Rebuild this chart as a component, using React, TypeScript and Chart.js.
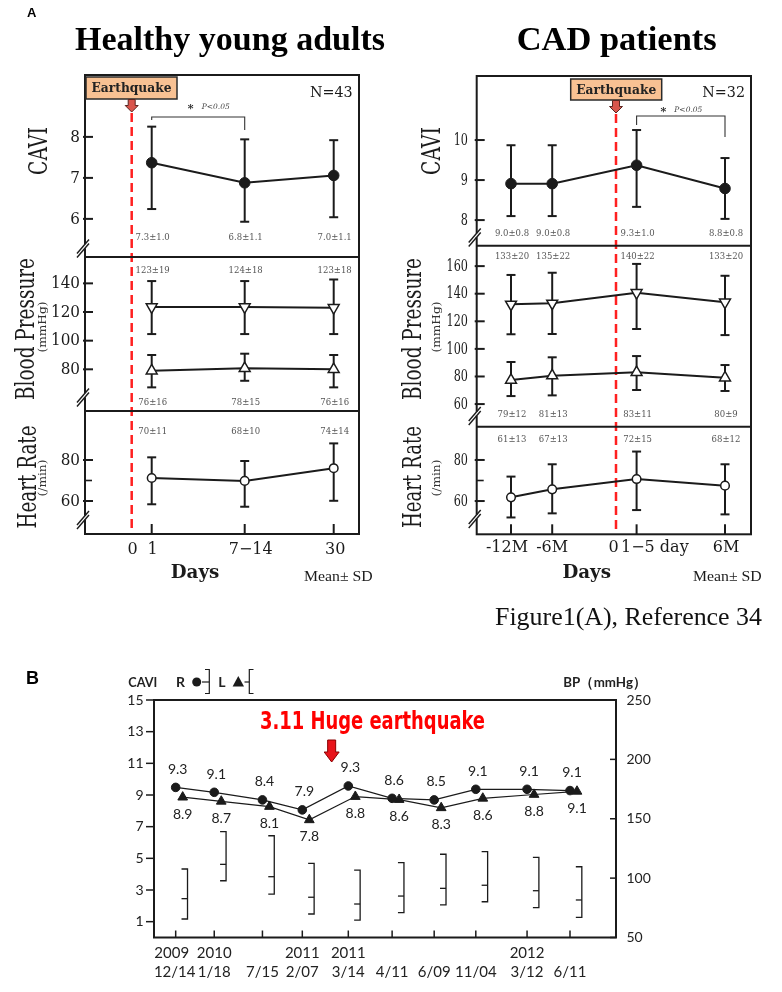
import React, { useEffect, useRef } from 'react';
import { Chart, registerables } from 'chart.js';

Chart.register(...registerables);

const W = 782;
const H = 992;
const INK = '#1b1b1b';
const SERIF = '"DejaVu Serif", serif';
const TIMES = '"Liberation Serif", "Times New Roman", serif';
const SANS = 'Lato, "Open Sans", sans-serif';

// ================= Figure 1(A) left: healthy young adults =================
const hyaXLabels = ['0', '1', '7−14', '30'];
const hyaXLabelPos = [0, 1, 5.65, 10.1];
const hyaPos = [1, 5.65, 10.1];
const hyaCavi = [7.37, 6.88, 7.06];
const hyaCaviLo = [6.24, 5.93, 6.04];
const hyaCaviHi = [8.25, 7.94, 7.92];
const hyaCaviText = ['7.3±1.0', '6.8±1.1', '7.0±1.1'];
const hyaSbp = [123.5, 123.5, 123];
const hyaSbpLo = [104.6, 104.6, 104.6];
const hyaSbpHi = [141.6, 141.6, 142.7];
const hyaSbpText = ['123±19', '124±18', '123±18'];
const hyaDbp = [79, 80.7, 80];
const hyaDbpLo = [67.4, 72, 67.4];
const hyaDbpHi = [90, 90.9, 90];
const hyaDbpText = ['76±16', '78±15', '76±16'];
const hyaHr = [71.2, 69.8, 76];
const hyaHrLo = [58.4, 57.2, 60.1];
const hyaHrHi = [81.3, 79.5, 88.1];
const hyaHrText = ['70±11', '68±10', '74±14'];
const hyaCaviTicks = [6, 7, 8];
const hyaBpTicks = [80, 100, 120, 140];

// ================= Figure 1(A) right: CAD patients =================
const cadXLabels = ['-12M', '-6M', '0', '1−5 day', '6M'];
const cadXLabelPos = [-5.25, -3.19, 0, 1.03, 5.45];
const cadPos = [-5.25, -3.19, 1.03, 5.45];
const cadCavi = [8.91, 8.91, 9.37, 8.79];
const cadCaviLo = [8.1, 8.1, 8.33, 8.03];
const cadCaviHi = [9.87, 9.87, 10.25, 9.55];
const cadCaviText = ['9.0±0.8', '9.0±0.8', '9.3±1.0', '8.8±0.8'];
const cadSbp = [132.3, 133, 140.7, 133.8];
const cadSbpLo = [110.6, 110.8, 114.4, 110];
const cadSbpHi = [153.6, 155.2, 161.6, 153];
const cadSbpText = ['133±20', '135±22', '140±22', '133±20'];
const cadDbp = [77.4, 80.6, 83, 79.1];
const cadDbpLo = [65.8, 66.3, 70.2, 69.5];
const cadDbpHi = [90.5, 93.9, 94.8, 88.3];
const cadDbpText = ['79±12', '81±13', '83±11', '80±9'];
const cadHr = [61.8, 65.7, 70.7, 67.5];
const cadHrLo = [52, 54, 55.6, 53.5];
const cadHrHi = [71.9, 77.9, 84.1, 77.9];
const cadHrText = ['61±13', '67±13', '72±15', '68±12'];
const cadCaviTicks = [8, 9, 10];
const cadBpTicks = [60, 80, 100, 120, 140, 160];

const hrTicks = [60, 80];
const hrMinorTicks = [70];

// ================= Figure B =================
const bYears = ['2009', '2010', '', '2011', '2011', '', '', '', '2012', ''];
const bDays = ['12/14', '1/18', '7/15', '2/07', '3/14', '4/11', '6/09', '11/04', '3/12', '6/11'];
const bPos = [0, 0.88, 1.98, 2.89, 3.94, 4.94, 5.9, 6.85, 8.02, 9.0];
const bCaviR = [9.48, 9.17, 8.69, 8.06, 9.57, 8.79, 8.69, 9.36, 9.36, 9.28];
const bCaviL = [8.86, 8.6, 8.27, 7.43, 8.9, 8.71, 8.19, 8.79, 9.03, 9.23];
const bCaviRText = ['9.3', '9.1', '8.4', '7.9', '9.3', '8.6', '8.5', '9.1', '9.1', '9.1'];
const bCaviLText = ['8.9', '8.7', '8.1', '7.8', '8.8', '8.6', '8.3', '8.6', '8.8', '9.1'];
const bBpTop = [107.7, 139.1, 135.7, 112.5, 106.8, 113, 120.1, 122.3, 117.5, 109.6];
const bBpMid = [82.7, 111.6, 101.2, 83.9, 78.2, 84.9, 91.4, 94, 89.4, 81.6];
const bBpLow = [65.6, 97.8, 86.6, 69.8, 64.7, 70.9, 77.4, 80.1, 75.1, 67];
const bCaviTicks = [1, 3, 5, 7, 9, 11, 13, 15];
const bBpTicks = [50, 100, 150, 200, 250];
const bQuakePos = 3.56;

// ---------------- helpers ----------------
function txt(ctx: any, s: string, x: number, y: number, font: string, o: any = {}) {
  ctx.save();
  ctx.font = font;
  ctx.fillStyle = o.color ?? INK;
  ctx.textAlign = o.align ?? 'center';
  ctx.textBaseline = o.base ?? 'middle';
  ctx.translate(x, y);
  if (o.rot) ctx.rotate(o.rot);
  if (o.fit) {
    const w = ctx.measureText(s).width;
    if (w > 0) ctx.scale(o.fit / w, 1);
  } else if (o.sx) {
    ctx.scale(o.sx, 1);
  }
  ctx.fillText(s, 0, 0);
  ctx.restore();
}

function seg(ctx: any, x1: number, y1: number, x2: number, y2: number) {
  ctx.beginPath();
  ctx.moveTo(x1, y1);
  ctx.lineTo(x2, y2);
  ctx.stroke();
}

function markerStyle(kind: string) {
  if (kind === 'dot')
    return { pointStyle: 'circle', pointRadius: 5.3, pointBackgroundColor: INK, pointBorderColor: INK, pointBorderWidth: 1 };
  if (kind === 'down')
    return { pointStyle: 'triangle', pointRotation: 180, pointRadius: 6.3, pointBackgroundColor: '#fff', pointBorderColor: INK, pointBorderWidth: 1.5 };
  if (kind === 'up')
    return { pointStyle: 'triangle', pointRotation: 0, pointRadius: 6.3, pointBackgroundColor: '#fff', pointBorderColor: INK, pointBorderWidth: 1.5 };
  return { pointStyle: 'circle', pointRadius: 4.3, pointBackgroundColor: '#fff', pointBorderColor: INK, pointBorderWidth: 1.5 };
}

function secRange(s: any, top: number, bottom: number) {
  const ppu = (s.bottom - s.top) / (s.hi - s.lo);
  return { min: s.lo - (bottom - s.bottom) / ppu, max: s.hi + (s.top - top) / ppu };
}

// ---------------- panel configs ----------------
const hyaCfg = {
  frame: { left: 85, right: 359, top: 75, bottom: 534 },
  xMin: -2.335,
  xMax: 11.365,
  pos: hyaPos,
  xLabels: hyaXLabels,
  xLabelPos: hyaXLabelPos,
  xLabelDx: [0.8, 0.8, 6, 1.5],
  xLabelAlign: ['center', 'center', 'center', 'center'],
  xLabelY: 550,
  tickRight: 80,
  tickSx: 0.95,
  secs: [
    { id: 'yC', top: 75, bottom: 257, lo: 5.07, hi: 9.51, ticks: hyaCaviTicks, minor: [], title: 'CAVI', titleLen: 48, titleX: 47, titleY: 151, breakY: 248.5 },
    { id: 'yB', top: 257, bottom: 411, lo: 50.9, hi: 158.4, ticks: hyaBpTicks, minor: [], title: 'Blood Pressure', titleLen: 142, titleX: 34, titleY: 329, unit: '(mmHg)', unitLen: 51, unitX: 45.8, unitY: 327, breakY: 397.5 },
    { id: 'yH', top: 411, bottom: 534, lo: 43.9, hi: 103.9, ticks: hrTicks, minor: hrMinorTicks, title: 'Heart Rate', titleLen: 103, titleX: 35.5, titleY: 477, unit: '(/min)', unitLen: 37, unitX: 45.8, unitY: 478, breakY: 520 },
  ],
  series: [
    { sec: 'yC', kind: 'dot', val: hyaCavi, lo: hyaCaviLo, hi: hyaCaviHi, text: hyaCaviText, textY: 238 },
    { sec: 'yB', kind: 'down', val: hyaSbp, lo: hyaSbpLo, hi: hyaSbpHi, text: hyaSbpText, textY: 270.7 },
    { sec: 'yB', kind: 'up', val: hyaDbp, lo: hyaDbpLo, hi: hyaDbpHi, text: hyaDbpText, textY: 402.7 },
    { sec: 'yH', kind: 'ring', val: hyaHr, lo: hyaHrLo, hi: hyaHrHi, text: hyaHrText, textY: 431.7 },
  ],
  box: [86, 77, 177, 99],
  arrowTop: 99.5,
  dashTop: 113,
  nText: 'N=43',
  nRight: 352.7,
  nY: 93,
  sig: { from: hyaPos[0], to: hyaPos[1], top: 117, leftDrop: 120, rightDrop: 130, starX: 190.7, y: 107.5 },
  daysX: 195,
  meanX: 304,
  heading: 'Healthy young adults',
  headingX: 230,
  headingW: 310,
};

const cadCfg = {
  frame: { left: 476.7, right: 751, top: 76, bottom: 534.3 },
  xMin: -6.965,
  xMax: 6.75,
  pos: cadPos,
  xLabels: cadXLabels,
  xLabelPos: cadXLabelPos,
  xLabelDx: [-4, 0, -2.3, -15.6, 1],
  xLabelAlign: ['center', 'center', 'center', 'left', 'center'],
  xLabelY: 548,
  tickRight: 468,
  tickSx: 0.7,
  secs: [
    { id: 'yC', top: 76, bottom: 245.7, lo: 7.36, hi: 11.6, ticks: cadCaviTicks, minor: [], title: 'CAVI', titleLen: 48, titleX: 440, titleY: 151, breakY: 237.5 },
    { id: 'yB', top: 245.7, bottom: 426.7, lo: 43.6, hi: 174.8, ticks: cadBpTicks, minor: [], title: 'Blood Pressure', titleLen: 142, titleX: 421, titleY: 329, unit: '(mmHg)', unitLen: 51, unitX: 439.5, unitY: 327, breakY: 416 },
    { id: 'yH', top: 426.7, bottom: 534.3, lo: 43.8, hi: 96.2, ticks: hrTicks, minor: hrMinorTicks, title: 'Heart Rate', titleLen: 102, titleX: 421, titleY: 477, unit: '(/min)', unitLen: 37, unitX: 439.5, unitY: 478, breakY: 519 },
  ],
  series: [
    { sec: 'yC', kind: 'dot', val: cadCavi, lo: cadCaviLo, hi: cadCaviHi, text: cadCaviText, textY: 234 },
    { sec: 'yB', kind: 'down', val: cadSbp, lo: cadSbpLo, hi: cadSbpHi, text: cadSbpText, textY: 256.7 },
    { sec: 'yB', kind: 'up', val: cadDbp, lo: cadDbpLo, hi: cadDbpHi, text: cadDbpText, textY: 415 },
    { sec: 'yH', kind: 'ring', val: cadHr, lo: cadHrLo, hi: cadHrHi, text: cadHrText, textY: 439.3 },
  ],
  box: [570.7, 79, 661.7, 100],
  arrowTop: 100.5,
  dashTop: 114,
  nText: 'N=32',
  nRight: 745,
  nY: 93,
  sig: { from: cadPos[2], to: cadPos[3], top: 116, leftDrop: 125, rightDrop: 137, starX: 663.3, y: 110.5 },
  daysX: 586.7,
  meanX: 693,
  heading: 'CAD patients',
  headingX: 616.7,
  headingW: 200,
};

function buildPanelA(canvas: HTMLCanvasElement, cfg: any, extra: (ctx: any) => void) {
  const f = cfg.frame;
  const scales: any = { x: { type: 'linear', min: cfg.xMin, max: cfg.xMax, display: false } };
  for (const s of cfg.secs) {
    const r = secRange(s, f.top, f.bottom);
    scales[s.id] = { type: 'linear', axis: 'y', position: 'left', min: r.min, max: r.max, display: false };
  }
  const datasets = cfg.series.map((s: any) => ({
    type: 'line',
    data: cfg.pos.map((x: number, i: number) => ({ x, y: s.val[i] })),
    xAxisID: 'x',
    yAxisID: s.sec,
    borderColor: INK,
    borderWidth: 2,
    fill: false,
    tension: 0,
    ...markerStyle(s.kind),
  }));

  const plugin = {
    id: 'panelA',
    beforeDatasetsDraw(chart: any) {
      const ctx = chart.ctx;
      const a = chart.chartArea;
      const xs = chart.scales.x;
      ctx.save();
      const qx = xs.getPixelForValue(0);
      ctx.strokeStyle = '#ff2020';
      ctx.lineWidth = 2.5;
      ctx.setLineDash([9, 5]);
      seg(ctx, qx, cfg.dashTop, qx, a.bottom);
      ctx.setLineDash([]);
      ctx.strokeStyle = INK;
      ctx.lineWidth = 2;
      for (const s of cfg.series) {
        const ys = chart.scales[s.sec];
        cfg.pos.forEach((p: number, i: number) => {
          const x = xs.getPixelForValue(p);
          const y1 = ys.getPixelForValue(s.lo[i]);
          const y2 = ys.getPixelForValue(s.hi[i]);
          seg(ctx, x, y1, x, y2);
          seg(ctx, x - 4.5, y1, x + 4.5, y1);
          seg(ctx, x - 4.5, y2, x + 4.5, y2);
        });
      }
      ctx.restore();
    },
    afterDraw(chart: any) {
      const ctx = chart.ctx;
      const a = chart.chartArea;
      const xs = chart.scales.x;
      ctx.save();
      ctx.strokeStyle = INK;
      ctx.lineWidth = 2;
      ctx.strokeRect(a.left, a.top, a.right - a.left, a.bottom - a.top);
      cfg.secs.forEach((s: any, k: number) => {
        const ys = chart.scales[s.id];
        ctx.strokeStyle = INK;
        ctx.lineWidth = 2;
        if (k < cfg.secs.length - 1) {
          const y = ys.getPixelForValue(s.lo);
          seg(ctx, a.left, y, a.right, y);
        }
        s.ticks.forEach((v: number) => {
          const y = ys.getPixelForValue(v);
          seg(ctx, a.left - 2, y, a.left + 8, y);
          txt(ctx, String(v), cfg.tickRight, y + 0.5, `16px ${SERIF}`, { align: 'right', sx: cfg.tickSx });
        });
        ctx.lineWidth = 1.6;
        s.minor.forEach((v: number) => {
          const y = ys.getPixelForValue(v);
          seg(ctx, a.left, y, a.left + 7, y);
        });
        const bx = a.left;
        const by = s.breakY;
        ctx.fillStyle = '#fff';
        ctx.fillRect(bx - 2, by - 4.3, 4, 4);
        ctx.lineWidth = 1.4;
        seg(ctx, bx - 8, by + 5, bx + 4, by - 9);
        seg(ctx, bx - 8, by + 9, bx + 4, by - 5);
        txt(ctx, s.title, s.titleX, s.titleY, `26px ${SERIF}`, { rot: -Math.PI / 2, base: 'alphabetic', fit: s.titleLen });
        if (s.unit)
          txt(ctx, s.unit, s.unitX, s.unitY, `11px ${SERIF}`, { rot: -Math.PI / 2, base: 'alphabetic', fit: s.unitLen, color: '#333' });
      });
      ctx.strokeStyle = INK;
      ctx.lineWidth = 2;
      cfg.pos.forEach((p: number) => {
        const x = xs.getPixelForValue(p);
        seg(ctx, x, a.bottom, x, a.bottom - 10);
      });
      cfg.xLabels.forEach((l: string, i: number) => {
        const x = xs.getPixelForValue(cfg.xLabelPos[i]) + cfg.xLabelDx[i];
        txt(ctx, l, x, cfg.xLabelY, `16px ${SERIF}`, { align: cfg.xLabelAlign[i] });
      });
      txt(ctx, 'Days', cfg.daysX, 573, `bold 19px ${SERIF}`, { fit: 48.6 });
      txt(ctx, 'Mean± SD', cfg.meanX, 577, `15px ${TIMES}`, { align: 'left', fit: 68.7 });
      for (const s of cfg.series) {
        cfg.pos.forEach((p: number, i: number) => {
          txt(ctx, s.text[i], xs.getPixelForValue(p) + 1, s.textY, `8.5px ${SERIF}`, { color: '#555' });
        });
      }
      const [bx0, by0, bx1, by1] = cfg.box;
      ctx.fillStyle = '#f8c193';
      ctx.fillRect(bx0, by0, bx1 - bx0, by1 - by0);
      ctx.strokeStyle = '#2a2a2a';
      ctx.lineWidth = 1.5;
      ctx.strokeRect(bx0, by0, bx1 - bx0, by1 - by0);
      txt(ctx, 'Earthquake', (bx0 + bx1) / 2, (by0 + by1) / 2 + 1, `bold 13px ${SERIF}`, { fit: 80, color: '#222' });
      const qx = xs.getPixelForValue(0);
      const at = cfg.arrowTop;
      ctx.beginPath();
      ctx.moveTo(qx - 3.5, at);
      ctx.lineTo(qx + 3.5, at);
      ctx.lineTo(qx + 3.5, at + 6);
      ctx.lineTo(qx + 6.5, at + 6);
      ctx.lineTo(qx, at + 12.5);
      ctx.lineTo(qx - 6.5, at + 6);
      ctx.lineTo(qx - 3.5, at + 6);
      ctx.closePath();
      ctx.fillStyle = '#d9554c';
      ctx.fill();
      ctx.strokeStyle = '#5a2520';
      ctx.lineWidth = 1;
      ctx.stroke();
      txt(ctx, cfg.nText, cfg.nRight, cfg.nY, `15px ${SERIF}`, { align: 'right', fit: 42.7 });
      const sg = cfg.sig;
      const sx0 = xs.getPixelForValue(sg.from);
      const sx1 = xs.getPixelForValue(sg.to);
      ctx.strokeStyle = '#333';
      ctx.lineWidth = 1.1;
      ctx.beginPath();
      ctx.moveTo(sx0, sg.leftDrop);
      ctx.lineTo(sx0, sg.top);
      ctx.lineTo(sx1, sg.top);
      ctx.lineTo(sx1, sg.rightDrop);
      ctx.stroke();
      txt(ctx, '*', sg.starX, sg.y + 2, `bold 11px ${SERIF}`, { color: '#222' });
      txt(ctx, 'P<0.05', sg.starX + 11, sg.y, `italic 7.5px ${SERIF}`, { align: 'left', color: '#444' });
      txt(ctx, cfg.heading, cfg.headingX, 50, `bold 34px ${TIMES}`, { base: 'alphabetic', fit: cfg.headingW, color: '#000' });
      extra(ctx);
      ctx.restore();
    },
  };

  return new Chart(canvas, {
    type: 'line',
    data: { datasets },
    options: {
      responsive: false,
      animation: false,
      events: [],
      layout: { autoPadding: false, padding: { left: f.left, right: W - f.right, top: f.top, bottom: H - f.bottom } },
      scales,
      plugins: { legend: { display: false }, tooltip: { enabled: false }, title: { display: false } },
    },
    plugins: [plugin],
  } as any);
}

function buildHya(canvas: HTMLCanvasElement) {
  return buildPanelA(canvas, hyaCfg, (ctx: any) => {
    txt(ctx, 'A', 27, 17, `bold 13px "Liberation Sans", Arial, sans-serif`, { align: 'left', base: 'alphabetic', color: '#000' });
  });
}

function buildCad(canvas: HTMLCanvasElement) {
  return buildPanelA(canvas, cadCfg, (ctx: any) => {
    txt(ctx, 'Figure1(A), Reference 34', 495, 625, `25px ${TIMES}`, { align: 'left', base: 'alphabetic', fit: 267, color: '#111' });
  });
}

// ---------------- Figure B ----------------
const B_L_SHIFT = 0.16;
const B_BRACKET_SHIFT = 0.27;

function buildB(canvas: HTMLCanvasElement) {
  const f = { left: 154, right: 616, top: 700, bottom: 937.5 };
  const datasets = [
    {
      type: 'line',
      data: bPos.map((x, i) => ({ x, y: bCaviR[i] })),
      xAxisID: 'x',
      yAxisID: 'yL',
      borderColor: INK,
      borderWidth: 1.2,
      tension: 0,
      fill: false,
      pointStyle: 'circle',
      pointRadius: 4.3,
      pointBackgroundColor: INK,
      pointBorderColor: INK,
      pointBorderWidth: 1,
    },
    {
      type: 'line',
      data: bPos.map((x, i) => ({ x: x + B_L_SHIFT, y: bCaviL[i] })),
      xAxisID: 'x',
      yAxisID: 'yL',
      borderColor: INK,
      borderWidth: 1.2,
      tension: 0,
      fill: false,
      pointStyle: 'triangle',
      pointRadius: 5.6,
      pointBackgroundColor: INK,
      pointBorderColor: INK,
      pointBorderWidth: 1,
    },
  ];

  const plugin = {
    id: 'panelB',
    afterDraw(chart: any) {
      const ctx = chart.ctx;
      const a = chart.chartArea;
      const xs = chart.scales.x;
      const yl = chart.scales.yL;
      const yr = chart.scales.yR;
      ctx.save();
      ctx.strokeStyle = INK;
      ctx.lineWidth = 2;
      ctx.strokeRect(a.left, a.top, a.right - a.left, a.bottom - a.top);
      ctx.lineWidth = 1.5;
      bCaviTicks.forEach((v) => {
        const y = yl.getPixelForValue(v);
        seg(ctx, a.left - 8, y, a.left, y);
        txt(ctx, String(v), a.left - 10.5, y, `14px ${SANS}`, { align: 'right', color: '#222' });
      });
      bBpTicks.forEach((v) => {
        const y = yr.getPixelForValue(v);
        seg(ctx, a.right - 6, y, a.right, y);
        txt(ctx, String(v), a.right + 10.5, y, `14px ${SANS}`, { align: 'left', color: '#222' });
      });
      bPos.forEach((p, i) => {
        const x = xs.getPixelForValue(p);
        seg(ctx, x, a.bottom, x, a.bottom - 7);
        if (bYears[i]) txt(ctx, bYears[i], x - (i === 0 ? 4 : 0), 953.5, `15px ${SANS}`, { color: '#222' });
        txt(ctx, bDays[i], x - (i === 0 ? 1 : 0), 972, `15px ${SANS}`, { color: '#222' });
      });
      ctx.lineWidth = 1.3;
      bPos.forEach((p, i) => {
        const x = xs.getPixelForValue(p + B_BRACKET_SHIFT);
        const yt = yr.getPixelForValue(bBpTop[i]);
        const ym = yr.getPixelForValue(bBpMid[i]);
        const yb = yr.getPixelForValue(bBpLow[i]);
        ctx.beginPath();
        ctx.moveTo(x - 6, yt);
        ctx.lineTo(x, yt);
        ctx.lineTo(x, yb);
        ctx.lineTo(x - 6, yb);
        ctx.stroke();
        seg(ctx, x - 6, ym, x, ym);
      });
      const mR = chart.getDatasetMeta(0).data;
      const mL = chart.getDatasetMeta(1).data;
      mR.forEach((el: any, i: number) => txt(ctx, bCaviRText[i], el.x + 2, el.y - 18, `14px ${SANS}`, { color: '#222' }));
      mL.forEach((el: any, i: number) => txt(ctx, bCaviLText[i], el.x, el.y + 17, `14px ${SANS}`, { color: '#222' }));
      txt(ctx, 'CAVI', 128.3, 682, `bold 14px ${SANS}`, { align: 'left', fit: 29, color: '#222' });
      txt(ctx, 'R', 180.5, 682.5, `bold 14px ${SANS}`, { color: '#222' });
      ctx.fillStyle = INK;
      ctx.beginPath();
      ctx.arc(196.7, 682, 4.5, 0, Math.PI * 2);
      ctx.fill();
      ctx.lineWidth = 1.2;
      seg(ctx, 202, 682, 209.3, 682);
      ctx.beginPath();
      ctx.moveTo(205, 669.5);
      ctx.lineTo(209.3, 669.5);
      ctx.lineTo(209.3, 693.5);
      ctx.lineTo(205, 693.5);
      ctx.stroke();
      txt(ctx, 'L', 222, 682.5, `bold 14px ${SANS}`, { color: '#222' });
      ctx.beginPath();
      ctx.moveTo(238.3, 676);
      ctx.lineTo(244, 686.5);
      ctx.lineTo(232.6, 686.5);
      ctx.closePath();
      ctx.fill();
      seg(ctx, 244.5, 682, 249.3, 682);
      ctx.beginPath();
      ctx.moveTo(253.5, 669.5);
      ctx.lineTo(249.3, 669.5);
      ctx.lineTo(249.3, 693.5);
      ctx.lineTo(253.5, 693.5);
      ctx.stroke();
      txt(ctx, 'BP（mmHg）', 563.3, 682, `bold 14px ${SANS}`, { align: 'left', fit: 83, color: '#222' });
      txt(ctx, '3.11 Huge earthquake', 372.5, 729, `bold 24px "Liberation Sans Narrow", "DejaVu Sans Condensed", sans-serif`, {
        base: 'alphabetic',
        fit: 225,
        color: '#ff0000',
      });
      const qx = xs.getPixelForValue(bQuakePos);
      ctx.beginPath();
      ctx.moveTo(qx - 4, 740);
      ctx.lineTo(qx + 4, 740);
      ctx.lineTo(qx + 4, 752);
      ctx.lineTo(qx + 7.5, 752);
      ctx.lineTo(qx, 762);
      ctx.lineTo(qx - 7.5, 752);
      ctx.lineTo(qx - 4, 752);
      ctx.closePath();
      ctx.fillStyle = '#e8141b';
      ctx.fill();
      ctx.strokeStyle = '#8a0000';
      ctx.lineWidth = 1;
      ctx.stroke();
      txt(ctx, 'B', 26, 684, `bold 18px "Liberation Sans", Arial, sans-serif`, { align: 'left', base: 'alphabetic', color: '#000' });
      ctx.restore();
    },
  };

  return new Chart(canvas, {
    type: 'line',
    data: { datasets },
    options: {
      responsive: false,
      animation: false,
      events: [],
      layout: { autoPadding: false, padding: { left: f.left, right: W - f.right, top: f.top, bottom: H - f.bottom } },
      scales: {
        x: { type: 'linear', min: -0.495, max: 10.05, display: false },
        yL: { type: 'linear', axis: 'y', position: 'left', min: 0, max: 15, display: false },
        yR: { type: 'linear', axis: 'y', position: 'right', min: 50, max: 250, display: false },
      },
      plugins: { legend: { display: false }, tooltip: { enabled: false }, title: { display: false } },
    },
    plugins: [plugin],
  } as any);
}

function ChartLayer({ build }: { build: (c: HTMLCanvasElement) => Chart }) {
  const ref = useRef<HTMLCanvasElement | null>(null);
  useEffect(() => {
    const chart = build(ref.current as HTMLCanvasElement);
    return () => chart.destroy();
  }, [build]);
  return (
    <canvas
      ref={ref}
      width={W}
      height={H}
      style={{ position: 'absolute', left: 0, top: 0, width: W, height: H }}
    />
  );
}

export default function App() {
  return (
    <div style={{ position: 'absolute', left: 0, top: 0, width: W, height: H, background: '#fff', overflow: 'hidden' }}>
      <ChartLayer build={buildHya} />
      <ChartLayer build={buildCad} />
      <ChartLayer build={buildB} />
    </div>
  );
}
